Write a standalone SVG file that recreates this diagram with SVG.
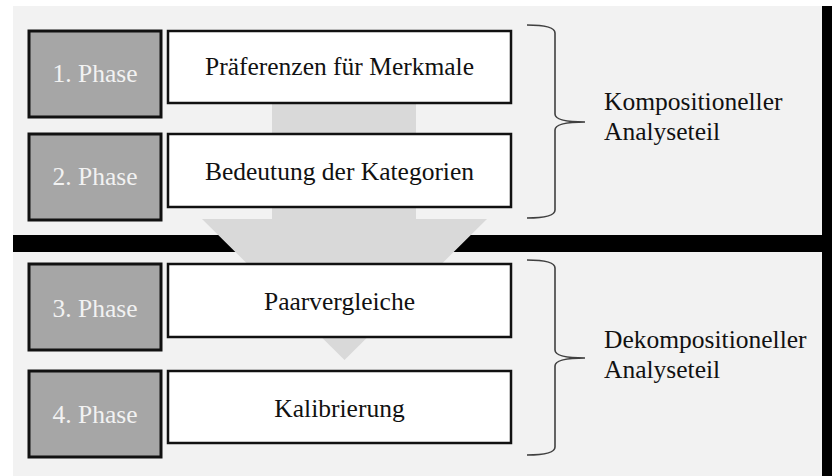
<svg xmlns="http://www.w3.org/2000/svg" width="832" height="476" viewBox="0 0 832 476">
<style>
.t{font-family:"Liberation Serif","Times New Roman",serif;font-size:25.5px;fill:#111}
.ph{font-family:"Liberation Serif","Times New Roman",serif;font-size:25.5px;fill:#f2f2f2;text-anchor:middle}
.c{text-anchor:middle}
.gb{fill:#a6a6a6;stroke:#111;stroke-width:3}
.wb{fill:#fff;stroke:#111;stroke-width:2.5}
.br{fill:none;stroke:#404040;stroke-width:1.6}
</style>
<rect x="0" y="0" width="832" height="476" fill="#fff"/>
<rect x="13" y="6" width="810" height="470" fill="#f2f2f2"/>
<rect x="822" y="6" width="10" height="470" fill="#000"/>
<rect x="13" y="235" width="819" height="17" fill="#000"/>
<g id="connectors">
<path d="M272,103 L416,103 L416,219 L487,219 L344.5,360 L202,219 L272,219 Z" fill="#d9d9d9"/>
</g>
<g id="phase1"><rect class="gb" x="29" y="31" width="132" height="86"/><text class="ph" x="95" y="82">1. Phase</text></g>
<g id="phase2"><rect class="gb" x="29" y="134" width="132" height="86"/><text class="ph" x="95" y="185">2. Phase</text></g>
<g id="phase3"><rect class="gb" x="29" y="264" width="132" height="86"/><text class="ph" x="95" y="317">3. Phase</text></g>
<g id="phase4"><rect class="gb" x="29" y="371" width="132" height="86"/><text class="ph" x="95" y="423">4. Phase</text></g>
<g id="step1"><rect class="wb" x="168" y="31" width="343" height="72"/><text class="t c" x="339.5" y="75">Präferenzen für Merkmale</text></g>
<g id="step2"><rect class="wb" x="168" y="134" width="343" height="73"/><text class="t c" x="339.5" y="180">Bedeutung der Kategorien</text></g>
<g id="step3"><rect class="wb" x="168" y="264" width="343" height="73"/><text class="t c" x="339.5" y="310">Paarvergleiche</text></g>
<g id="step4"><rect class="wb" x="168" y="371" width="343" height="72"/><text class="t c" x="339.5" y="417">Kalibrierung</text></g>
<g id="brace1">
<path class="br" d="M527,25 Q555,25 555,33 L555,114 Q555,122 585,122 Q555,122 555,130 L555,210 Q555,218 527,218"/>
<text class="t" x="604" y="110">Kompositioneller</text>
<text class="t" x="604" y="140">Analyseteil</text>
</g>
<g id="brace2">
<path class="br" d="M527,260 Q555,260 555,268 L555,350 Q555,358 585,358 Q555,358 555,366 L555,447 Q555,455 527,455"/>
<text class="t" x="604" y="348">Dekompositioneller</text>
<text class="t" x="604" y="378">Analyseteil</text>
</g>
</svg>
